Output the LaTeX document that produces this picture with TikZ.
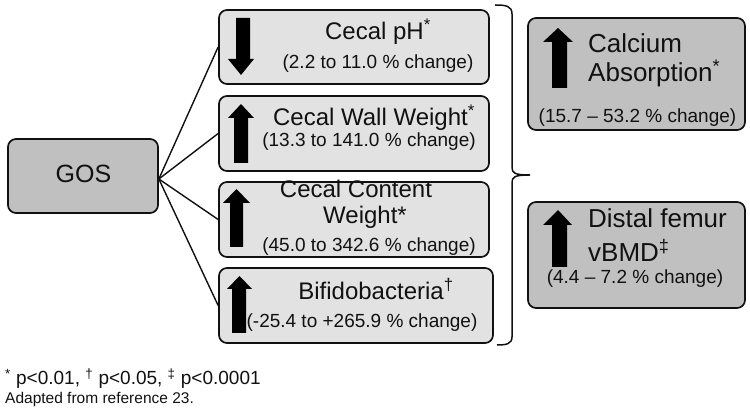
\documentclass[tikz,border=0pt]{standalone}
\usepackage{fontspec}
\setmainfont{Liberation Sans}
\definecolor{boxdark}{HTML}{C0C0C0}
\definecolor{boxlight}{HTML}{E2E2E2}
\definecolor{ink}{HTML}{111111}
\begin{document}
\begin{tikzpicture}[x=1pt,y=-1pt,
  darkbox/.style={draw=ink,line width=1.7pt,rounded corners=8pt,fill=boxdark,inner sep=0pt},
  lightbox/.style={draw=ink,line width=1.7pt,rounded corners=8pt,fill=boxlight,inner sep=0pt},
  maintxt/.style={inner sep=0pt,anchor=base,font=\fontsize{24}{28}\selectfont,text=ink},
  maintxtl/.style={inner sep=0pt,anchor=base west,font=\fontsize{26}{30}\selectfont,text=ink},
  subtxt/.style={inner sep=0pt,anchor=base,font=\fontsize{19}{22}\selectfont,text=ink},
  link/.style={draw=ink,line width=1.4pt},
  blockarrow/.style={fill=black,draw=none}]
\useasboundingbox (0,0) rectangle (750,419);
% boxes
\node[darkbox,minimum width=150pt,minimum height=74pt] (gos) at (83,176) {};
\node[lightbox,minimum width=270pt,minimum height=74pt] (b1) at (354,47) {};
\node[lightbox,minimum width=270pt,minimum height=75pt] (b2) at (354,133.5) {};
\node[lightbox,minimum width=270pt,minimum height=75pt] (b3) at (354,219.5) {};
\node[lightbox,minimum width=274pt,minimum height=75pt] (b4) at (356,305.5) {};
\node[darkbox,minimum width=217pt,minimum height=112pt] (r1) at (636.5,74) {};
\node[darkbox,minimum width=217pt,minimum height=106pt] (r2) at (636.5,255) {};
% connectors
\coordinate (hub) at ([yshift=-3pt]gos.east);
\draw[link] (hub) -- (b1.west);
\draw[link] (hub) -- (b2.west);
\draw[link] (hub) -- (b3.west);
\draw[link] (hub) -- (b4.west);
% brace
\coordinate (bt) at (495,5);
\coordinate (bb) at (497,345);
\coordinate (btip) at (530,175);
\draw[ink,line width=1.5pt] (bt) .. controls (506,5) and (512,6) .. (512,14) -- (512,167)
  .. controls (512,173) and (514,175) .. (btip)
  .. controls (514,175) and (512,177) .. (512,183) -- (512,337)
  .. controls (512,344) and (506,345) .. (bb);
% block arrows
\fill[blockarrow] (236,18) -- (250,18) -- (250,59) -- (254,59) -- (241,75) -- (228,59) -- (236,59) -- cycle;
\fill[blockarrow] (241,104) -- (254,118) -- (248,118) -- (248,163) -- (234,163) -- (234,118) -- (228,118) -- cycle;
\fill[blockarrow] (236.5,189) -- (250,203) -- (243,203) -- (243,247) -- (230,247) -- (230,203) -- (223,203) -- cycle;
\fill[blockarrow] (239.5,276) -- (252,289) -- (246,289) -- (246,333) -- (232,333) -- (232,289) -- (227,289) -- cycle;
\fill[blockarrow] (558,28) -- (573,42) -- (567,42) -- (567,88) -- (552,88) -- (552,42) -- (543,42) -- cycle;
\fill[blockarrow] (558,210) -- (572,225) -- (567,225) -- (567,267) -- (552,267) -- (552,225) -- (543,225) -- cycle;
% texts
\node[maintxt,font=\fontsize{25}{28}\selectfont] (tgos) at (83.5,183) {GOS};
\node[maintxt] (t1a) at (378,40) {Cecal pH\textsuperscript{*}};
\node[subtxt] (t1b) at (378,69) {(2.2 to 11.0 \% change)};
\node[maintxt] (t2a) at (374,126) {Cecal Wall Weight\textsuperscript{*}};
\node[subtxt] (t2b) at (369,147) {(13.3 to 141.0 \% change)};
\node[maintxt] (t3a) at (356,198) {Cecal Content};
\node[maintxt] (t3b) at (365,224) {Weight*};
\node[subtxt] (t3c) at (369,252) {(45.0 to 342.6 \% change)};
\node[maintxt] (t4a) at (376,300) {Bifidobacteria\textsuperscript{†}};
\node[subtxt] (t4b) at (362,328) {(-25.4 to +265.9 \% change)};
\node[maintxtl] (r1a) at (588,53) {Calcium};
\node[maintxtl] (r1b) at (588,82) {Absorption\textsuperscript{*}};
\node[subtxt] (r1c) at (637.5,123) {(15.7 – 53.2 \% change)};
\node[maintxtl] (r2a) at (588,228) {Distal femur};
\node[maintxtl] (r2b) at (588,262) {vBMD\textsuperscript{‡}};
\node[subtxt] (r2c) at (635,284) {(4.4 – 7.2 \% change)};
\node[inner sep=0pt,anchor=base west,font=\fontsize{19}{22}\selectfont,text=ink] (fn1) at (5,385)
  {\textsuperscript{*} p<0.01, \textsuperscript{†} p<0.05, \textsuperscript{‡} p<0.0001};
\node[inner sep=0pt,anchor=base west,font=\fontsize{15.5}{18}\selectfont,text=ink] (fn2) at (5,404)
  {Adapted from reference 23.};
\end{tikzpicture}
\end{document}
